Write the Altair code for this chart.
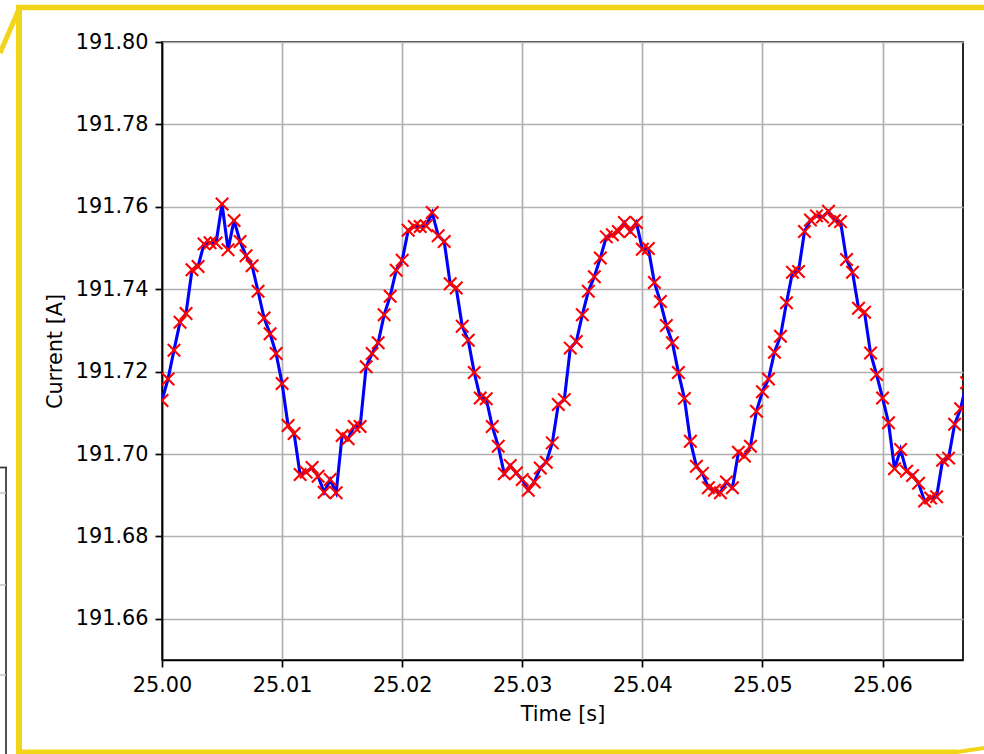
import altair as alt
import pandas as pd

# ---- data ----
time_s = [
    25.0000, 25.0005, 25.0010, 25.0015, 25.0020, 25.0025, 25.0030, 25.0035, 25.0040, 25.0045,
    25.0050, 25.0055, 25.0060, 25.0065, 25.0070, 25.0075, 25.0080, 25.0085, 25.0090, 25.0095,
    25.0100, 25.0105, 25.0110, 25.0115, 25.0120, 25.0125, 25.0130, 25.0135, 25.0140, 25.0145,
    25.0150, 25.0155, 25.0160, 25.0165, 25.0170, 25.0175, 25.0180, 25.0185, 25.0190, 25.0195,
    25.0200, 25.0205, 25.0210, 25.0215, 25.0220, 25.0225, 25.0230, 25.0235, 25.0240, 25.0245,
    25.0250, 25.0255, 25.0260, 25.0265, 25.0270, 25.0275, 25.0280, 25.0285, 25.0290, 25.0295,
    25.0300, 25.0305, 25.0310, 25.0315, 25.0320, 25.0325, 25.0330, 25.0335, 25.0340, 25.0345,
    25.0350, 25.0355, 25.0360, 25.0365, 25.0370, 25.0375, 25.0380, 25.0385, 25.0390, 25.0395,
    25.0400, 25.0405, 25.0410, 25.0415, 25.0420, 25.0425, 25.0430, 25.0435, 25.0440, 25.0445,
    25.0450, 25.0455, 25.0460, 25.0465, 25.0470, 25.0475, 25.0480, 25.0485, 25.0490, 25.0495,
    25.0500, 25.0505, 25.0510, 25.0515, 25.0520, 25.0525, 25.0530, 25.0535, 25.0540, 25.0545,
    25.0550, 25.0555, 25.0560, 25.0565, 25.0570, 25.0575, 25.0580, 25.0585, 25.0590, 25.0595,
    25.0600, 25.0605, 25.0610, 25.0615, 25.0620, 25.0625, 25.0630, 25.0635, 25.0640, 25.0645,
    25.0650, 25.0655, 25.0660, 25.0665, 25.0670,
]

current_a = [
    191.7130, 191.7182, 191.7252, 191.7320, 191.7341, 191.7447, 191.7455, 191.7510, 191.7513, 191.7512,
    191.7607, 191.7496, 191.7567, 191.7516, 191.7481, 191.7457, 191.7395, 191.7330, 191.7292, 191.7244,
    191.7171, 191.7069, 191.7050, 191.6950, 191.6956, 191.6967, 191.6946, 191.6907, 191.6938, 191.6906,
    191.7045, 191.7037, 191.7067, 191.7067, 191.7212, 191.7244, 191.7270, 191.7338, 191.7383, 191.7446,
    191.7470, 191.7543, 191.7552, 191.7552, 191.7554, 191.7586, 191.7530, 191.7516, 191.7413, 191.7403,
    191.7310, 191.7276, 191.7198, 191.7136, 191.7134, 191.7067, 191.7019, 191.6952, 191.6972, 191.6954,
    191.6938, 191.6912, 191.6932, 191.6966, 191.6980, 191.7027, 191.7120, 191.7132, 191.7257, 191.7273,
    191.7338, 191.7395, 191.7430, 191.7476, 191.7527, 191.7532, 191.7540, 191.7562, 191.7540, 191.7562,
    191.7497, 191.7499, 191.7416, 191.7370, 191.7312, 191.7270, 191.7198, 191.7135, 191.7031, 191.6970,
    191.6953, 191.6918, 191.6912, 191.6906, 191.6932, 191.6918, 191.7004, 191.6995, 191.7019, 191.7104,
    191.7151, 191.7182, 191.7247, 191.7286, 191.7367, 191.7441, 191.7443, 191.7540, 191.7568, 191.7578,
    191.7575, 191.7589, 191.7567, 191.7564, 191.7472, 191.7441, 191.7354, 191.7344, 191.7245, 191.7193,
    191.7136, 191.7076, 191.6964, 191.7011, 191.6958, 191.6948, 191.6929, 191.6886, 191.6893, 191.6896,
    191.6985, 191.6990, 191.7072, 191.7110, 191.7173,
]

x_ticks = [25.00, 25.01, 25.02, 25.03, 25.04, 25.05, 25.06]
y_ticks = [191.66, 191.68, 191.70, 191.72, 191.74, 191.76, 191.78, 191.80]
x_domain = [25.0, 25.0667]
y_domain = [191.65, 191.80]

df = pd.DataFrame({"t": time_s, "i": current_a})

FONT = "DejaVu Sans"
FS = 20.8

x_enc = alt.X(
    "t:Q",
    scale=alt.Scale(domain=x_domain, nice=False, zero=False),
    axis=alt.Axis(
        values=x_ticks, format=".2f", title="Time [s]", labelPadding=8,
        titleX=400.5, titleY=60, titleAlign="center", titleBaseline="alphabetic",
    ),
)
y_enc = alt.Y(
    "i:Q",
    scale=alt.Scale(domain=y_domain, nice=False, zero=False),
    axis=alt.Axis(
        values=y_ticks, format=".2f", title="Current [A]", labelPadding=7,
        titleX=-101, titleY=309, titleAngle=-90, titleAlign="center",
        titleBaseline="alphabetic",
    ),
)

base = alt.Chart(df)
line = base.mark_line(color="#0000ff", strokeWidth=3.1, clip=True).encode(x=x_enc, y=y_enc)
pts = base.mark_point(
    shape="M-1,-1L1,1M-1,1L1,-1", size=156, filled=False, color="#ff0000",
    stroke="#ff0000", strokeWidth=2.1, opacity=1, clip=True,
).encode(x="t:Q", y="i:Q")

# ---- decorative frame pieces (pixel offsets from the plot origin) ----
YEL = "#f2d518"
segments = [
    # x, y, x2, y2, color, width
    (-146, -34.5, 822, -34.5, YEL, 5.5),
    (-143, -37, -143, 712, YEL, 6),
    (-146, 710, 795, 710, YEL, 5),
    (795, 710, 822, 706, YEL, 4),
    (-143, -33, -162, 11, YEL, 5),
    (-156, 425, -156, 712, "#333333", 1.7),
    (-162, 425.5, -155, 425.5, "#333333", 1.7),
    (-162, 451, -156, 451, "#c0c0c0", 1.5),
    (-162, 543, -156, 543, "#c0c0c0", 1.5),
    (-162, 633, -156, 633, "#c0c0c0", 1.5),
]
deco_layers = []
for (x1, y1, x2, y2, col, w) in segments:
    deco_layers.append(
        alt.Chart(alt.Data(values=[{"d": 1}]))
        .mark_rule(color=col, strokeWidth=w, clip=False)
        .encode(x=alt.value(x1), y=alt.value(y1), x2=alt.value(x2), y2=alt.value(y2))
    )

chart = (
    alt.layer(line, pts, *deco_layers)
    .properties(
        width=801, height=618,
        padding={"left": 162, "top": 42, "right": 21, "bottom": 94},
        autosize=alt.AutoSizeParams(type="none"),
        background="white",
    )
    .configure_view(stroke="black", strokeWidth=1.7)
    .configure_axis(
        labelFont=FONT, labelFontSize=FS, labelColor="black",
        titleFont=FONT, titleFontSize=FS, titleFontWeight="normal", titleColor="black",
        tickSize=7, tickWidth=1.7, tickColor="black",
        domainColor="black", domainWidth=1.7,
        gridColor="#b0b0b0", gridWidth=1.7,
        labelFlush=False, labelOverlap=False,
    )
)

chart.save("out.html", embed_options={"renderer": "svg", "actions": False})
